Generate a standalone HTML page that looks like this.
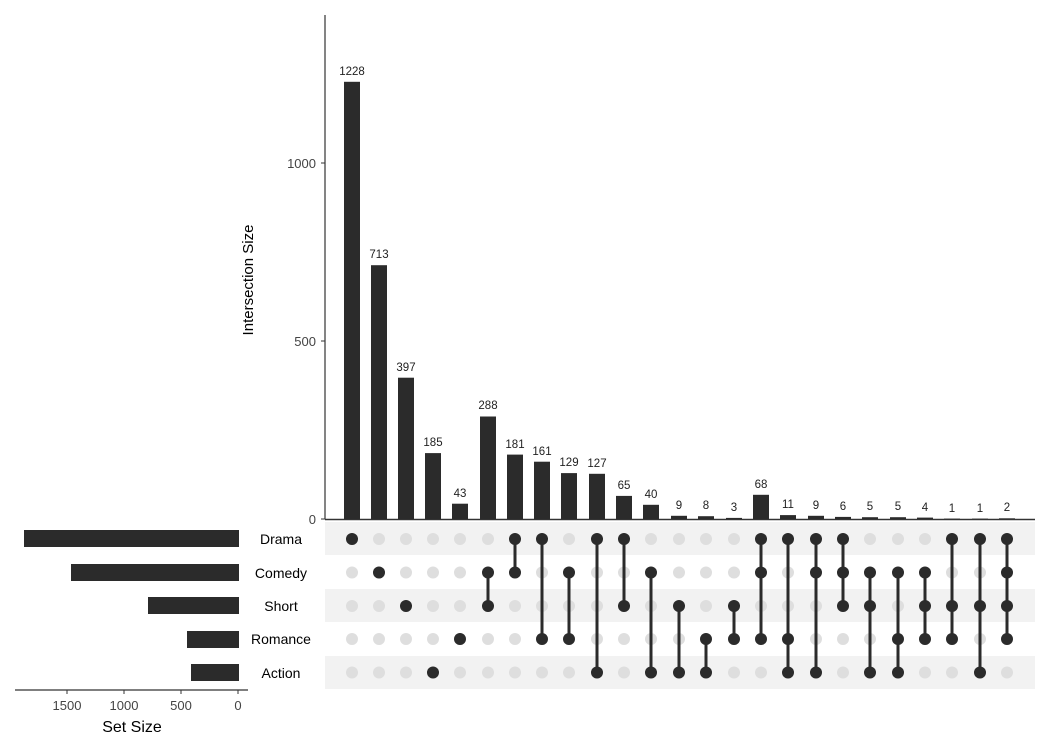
<!DOCTYPE html>
<html><head><meta charset="utf-8"><style>body{margin:0;background:#fff}svg{display:block;font-family:"Liberation Sans",sans-serif}</style></head><body>
<svg width="1050" height="750" xmlns="http://www.w3.org/2000/svg">
<defs>
<g id="gc" fill="#dedede"><circle cx="0" cy="539" r="6"/><circle cx="0" cy="572.5" r="6"/><circle cx="0" cy="606" r="6"/><circle cx="0" cy="639" r="6"/><circle cx="0" cy="672.5" r="6"/></g>
</defs>
<g fill="#f2f2f2">
<rect x="325" y="522" width="710" height="33"/>
<rect x="325" y="589" width="710" height="33"/>
<rect x="325" y="656" width="710" height="33"/>
</g>
<line x1="325" y1="15" x2="325" y2="519" stroke="#333" stroke-width="1.2"/>
<line x1="325" y1="519.5" x2="1035" y2="519.5" stroke="#333" stroke-width="1.5"/>
<g font-size="13" fill="#444" text-anchor="end">
<text x="316" y="524">0</text><text x="316" y="346">500</text><text x="316" y="168">1000</text>
</g>
<g stroke="#333"><line x1="321" y1="519" x2="325" y2="519"/><line x1="321" y1="341" x2="325" y2="341"/><line x1="321" y1="163" x2="325" y2="163"/></g>
<text transform="translate(253,280) rotate(-90)" font-size="15" text-anchor="middle" fill="#000">Intersection Size</text>

<g fill="#2b2b2b">
<rect x="344" y="81.8" width="16" height="437.2"/>
<rect x="371" y="265.2" width="16" height="253.8"/>
<rect x="398" y="377.7" width="16" height="141.3"/>
<rect x="425" y="453.1" width="16" height="65.9"/>
<rect x="452" y="503.7" width="16" height="15.3"/>
<rect x="480" y="416.5" width="16" height="102.5"/>
<rect x="507" y="454.6" width="16" height="64.4"/>
<rect x="534" y="461.7" width="16" height="57.3"/>
<rect x="561" y="473.1" width="16" height="45.9"/>
<rect x="589" y="473.8" width="16" height="45.2"/>
<rect x="616" y="495.9" width="16" height="23.1"/>
<rect x="643" y="504.8" width="16" height="14.2"/>
<rect x="671" y="515.8" width="16" height="3.2"/>
<rect x="698" y="516.2" width="16" height="2.8"/>
<rect x="726" y="517.9" width="16" height="1.1"/>
<rect x="753" y="494.8" width="16" height="24.2"/>
<rect x="780" y="515.1" width="16" height="3.9"/>
<rect x="808" y="515.8" width="16" height="3.2"/>
<rect x="835" y="516.9" width="16" height="2.1"/>
<rect x="862" y="517.2" width="16" height="1.8"/>
<rect x="890" y="517.2" width="16" height="1.8"/>
<rect x="917" y="517.6" width="16" height="1.4"/>
<rect x="944" y="518.6" width="16" height="0.4"/>
<rect x="972" y="518.6" width="16" height="0.4"/>
<rect x="999" y="518.3" width="16" height="0.7"/>
</g>
<g font-size="11.5" fill="#222" text-anchor="middle">
<text x="352" y="75">1228</text>
<text x="379" y="258">713</text>
<text x="406" y="371">397</text>
<text x="433" y="446">185</text>
<text x="460" y="497">43</text>
<text x="488" y="409">288</text>
<text x="515" y="448">181</text>
<text x="542" y="455">161</text>
<text x="569" y="466">129</text>
<text x="597" y="467">127</text>
<text x="624" y="489">65</text>
<text x="651" y="498">40</text>
<text x="679" y="509">9</text>
<text x="706" y="509">8</text>
<text x="734" y="511">3</text>
<text x="761" y="488">68</text>
<text x="788" y="508">11</text>
<text x="816" y="509">9</text>
<text x="843" y="510">6</text>
<text x="870" y="510">5</text>
<text x="898" y="510">5</text>
<text x="925" y="511">4</text>
<text x="952" y="512">1</text>
<text x="980" y="512">1</text>
<text x="1007" y="511">2</text>
</g>

<use href="#gc" x="352"/><use href="#gc" x="379"/><use href="#gc" x="406"/><use href="#gc" x="433"/><use href="#gc" x="460"/>
<use href="#gc" x="488"/><use href="#gc" x="515"/><use href="#gc" x="542"/><use href="#gc" x="569"/><use href="#gc" x="597"/>
<use href="#gc" x="624"/><use href="#gc" x="651"/><use href="#gc" x="679"/><use href="#gc" x="706"/><use href="#gc" x="734"/>
<use href="#gc" x="761"/><use href="#gc" x="788"/><use href="#gc" x="816"/><use href="#gc" x="843"/><use href="#gc" x="870"/>
<use href="#gc" x="898"/><use href="#gc" x="925"/><use href="#gc" x="952"/><use href="#gc" x="980"/><use href="#gc" x="1007"/>

<g stroke="#2b2b2b" stroke-width="3">
<line x1="488" y1="572.5" x2="488" y2="606"/>
<line x1="515" y1="539" x2="515" y2="572.5"/>
<line x1="542" y1="539" x2="542" y2="639"/>
<line x1="569" y1="572.5" x2="569" y2="639"/>
<line x1="597" y1="539" x2="597" y2="672.5"/>
<line x1="624" y1="539" x2="624" y2="606"/>
<line x1="651" y1="572.5" x2="651" y2="672.5"/>
<line x1="679" y1="606" x2="679" y2="672.5"/>
<line x1="706" y1="639" x2="706" y2="672.5"/>
<line x1="734" y1="606" x2="734" y2="639"/>
<line x1="761" y1="539" x2="761" y2="639"/>
<line x1="788" y1="539" x2="788" y2="672.5"/>
<line x1="816" y1="539" x2="816" y2="672.5"/>
<line x1="843" y1="539" x2="843" y2="606"/>
<line x1="870" y1="572.5" x2="870" y2="672.5"/>
<line x1="898" y1="572.5" x2="898" y2="672.5"/>
<line x1="925" y1="572.5" x2="925" y2="639"/>
<line x1="952" y1="539" x2="952" y2="639"/>
<line x1="980" y1="539" x2="980" y2="672.5"/>
<line x1="1007" y1="539" x2="1007" y2="639"/>
</g>
<g fill="#2b2b2b">
<circle cx="352" cy="539" r="6"/>
<circle cx="379" cy="572.5" r="6"/>
<circle cx="406" cy="606" r="6"/>
<circle cx="433" cy="672.5" r="6"/>
<circle cx="460" cy="639" r="6"/>
<circle cx="488" cy="572.5" r="6"/><circle cx="488" cy="606" r="6"/>
<circle cx="515" cy="539" r="6"/><circle cx="515" cy="572.5" r="6"/>
<circle cx="542" cy="539" r="6"/><circle cx="542" cy="639" r="6"/>
<circle cx="569" cy="572.5" r="6"/><circle cx="569" cy="639" r="6"/>
<circle cx="597" cy="539" r="6"/><circle cx="597" cy="672.5" r="6"/>
<circle cx="624" cy="539" r="6"/><circle cx="624" cy="606" r="6"/>
<circle cx="651" cy="572.5" r="6"/><circle cx="651" cy="672.5" r="6"/>
<circle cx="679" cy="606" r="6"/><circle cx="679" cy="672.5" r="6"/>
<circle cx="706" cy="639" r="6"/><circle cx="706" cy="672.5" r="6"/>
<circle cx="734" cy="606" r="6"/><circle cx="734" cy="639" r="6"/>
<circle cx="761" cy="539" r="6"/><circle cx="761" cy="572.5" r="6"/><circle cx="761" cy="639" r="6"/>
<circle cx="788" cy="539" r="6"/><circle cx="788" cy="639" r="6"/><circle cx="788" cy="672.5" r="6"/>
<circle cx="816" cy="539" r="6"/><circle cx="816" cy="572.5" r="6"/><circle cx="816" cy="672.5" r="6"/>
<circle cx="843" cy="539" r="6"/><circle cx="843" cy="572.5" r="6"/><circle cx="843" cy="606" r="6"/>
<circle cx="870" cy="572.5" r="6"/><circle cx="870" cy="606" r="6"/><circle cx="870" cy="672.5" r="6"/>
<circle cx="898" cy="572.5" r="6"/><circle cx="898" cy="639" r="6"/><circle cx="898" cy="672.5" r="6"/>
<circle cx="925" cy="572.5" r="6"/><circle cx="925" cy="606" r="6"/><circle cx="925" cy="639" r="6"/>
<circle cx="952" cy="539" r="6"/><circle cx="952" cy="606" r="6"/><circle cx="952" cy="639" r="6"/>
<circle cx="980" cy="539" r="6"/><circle cx="980" cy="606" r="6"/><circle cx="980" cy="672.5" r="6"/>
<circle cx="1007" cy="539" r="6"/><circle cx="1007" cy="572.5" r="6"/><circle cx="1007" cy="606" r="6"/><circle cx="1007" cy="639" r="6"/>
</g>

<g fill="#2b2b2b">
<rect x="24" y="530" width="215" height="17"/>
<rect x="71" y="564" width="168" height="17"/>
<rect x="148" y="597" width="91" height="17"/>
<rect x="187" y="631" width="52" height="17"/>
<rect x="191" y="664" width="48" height="17"/>
</g>
<g font-size="14" fill="#000" text-anchor="middle">
<text x="281" y="544">Drama</text><text x="281" y="578">Comedy</text><text x="281" y="611">Short</text><text x="281" y="644">Romance</text><text x="281" y="678">Action</text>
</g>
<line x1="15" y1="690" x2="248" y2="690" stroke="#333" stroke-width="1.2"/>
<g stroke="#333"><line x1="67" y1="690" x2="67" y2="694"/><line x1="124" y1="690" x2="124" y2="694"/><line x1="181" y1="690" x2="181" y2="694"/><line x1="238" y1="690" x2="238" y2="694"/></g>
<g font-size="13" fill="#444" text-anchor="middle">
<text x="67" y="710">1500</text><text x="124" y="710">1000</text><text x="181" y="710">500</text><text x="238" y="710">0</text>
</g>
<text x="132" y="732" font-size="16" text-anchor="middle">Set Size</text>
</svg>
</body></html>
